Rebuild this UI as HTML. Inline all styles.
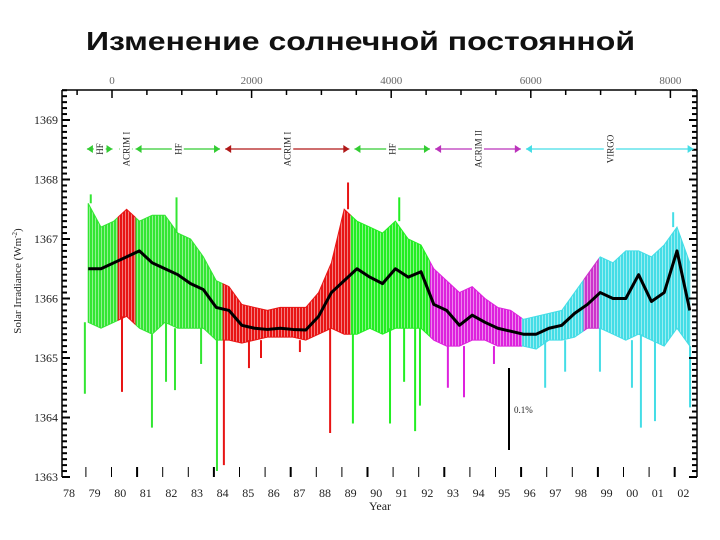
<!DOCTYPE html>
<html><head><meta charset="utf-8"><style>
html,body{margin:0;padding:0;background:#fff;}
svg{display:block;}
</style></head><body>
<svg id="chart" width="720" height="540" viewBox="0 0 720 540" xmlns="http://www.w3.org/2000/svg">
<text x="86" y="50" textLength="549" lengthAdjust="spacingAndGlyphs" font-family="Liberation Sans, sans-serif" font-weight="bold" font-size="26" fill="#111">Изменение солнечной постоянной</text>
<g id="plot"></g>
</svg>
<script>
const sampleYears=[78.75,79.25,79.75,80.25,80.75,81.25,81.75,82.25,82.75,83.25,83.75,84.25,84.75,85.25,85.75,86.25,86.75,87.25,87.75,88.25,88.75,89.25,89.75,90.25,90.75,91.25,91.75,92.25,92.75,93.25,93.75,94.25,94.75,95.25,95.75,96.25,96.75,97.25,97.75,98.25,98.75,99.25,99.75,100.25,100.75,101.25,101.75,102.25];
const meanValues=[1366.5,1366.5,1366.6,1366.7,1366.8,1366.6,1366.5,1366.4,1366.25,1366.15,1365.85,1365.8,1365.55,1365.5,1365.48,1365.5,1365.48,1365.47,1365.7,1366.1,1366.3,1366.5,1366.36,1366.25,1366.5,1366.36,1366.45,1365.9,1365.8,1365.55,1365.72,1365.6,1365.5,1365.45,1365.4,1365.4,1365.5,1365.55,1365.75,1365.9,1366.1,1366.0,1366.0,1366.4,1365.95,1366.1,1366.8,1365.8];
const highValues=[1367.6,1367.2,1367.3,1367.5,1367.3,1367.4,1367.4,1367.1,1367.0,1366.7,1366.3,1366.2,1365.9,1365.85,1365.8,1365.85,1365.85,1365.85,1366.1,1366.6,1367.5,1367.3,1367.2,1367.1,1367.3,1367.0,1366.9,1366.5,1366.3,1366.1,1366.2,1366.0,1365.85,1365.8,1365.65,1365.7,1365.75,1365.8,1366.1,1366.4,1366.7,1366.6,1366.8,1366.8,1366.7,1366.9,1367.2,1366.6];
const lowValues=[1365.6,1365.5,1365.6,1365.7,1365.5,1365.4,1365.6,1365.5,1365.5,1365.5,1365.3,1365.3,1365.25,1365.3,1365.35,1365.35,1365.35,1365.3,1365.4,1365.5,1365.4,1365.4,1365.5,1365.4,1365.5,1365.5,1365.5,1365.3,1365.2,1365.2,1365.3,1365.3,1365.2,1365.2,1365.2,1365.15,1365.3,1365.3,1365.35,1365.5,1365.5,1365.4,1365.3,1365.4,1365.3,1365.2,1365.5,1365.2];
const dipYears=[78.62,80.07,81.24,81.79,82.14,83.16,83.78,84.05,85.03,85.5,87.02,88.2,89.09,90.54,91.09,91.52,91.71,92.8,93.43,94.6,96.6,97.38,98.74,99.99,100.34,100.89,102.26];
const dipValues=[1364.4,1364.43,1363.83,1364.6,1364.46,1364.9,1363.1,1363.2,1364.83,1365.0,1365.1,1363.74,1363.9,1363.9,1364.6,1363.77,1364.2,1364.5,1364.34,1364.9,1364.5,1364.77,1364.77,1364.5,1363.83,1363.94,1364.17];
const peakYears=[78.85,80.5,82.2,88.9,90.9,101.6];
const peakValues=[1367.75,1367.5,1367.7,1367.95,1367.7,1367.45];
const segStarts=[78.6,79.9,80.6,84.0,89.0,92.1,95.7,98.1,98.7];
const segEnds=[79.9,80.6,84.0,89.0,92.1,95.7,98.1,98.7,102.4];
const segColors=["#33e633","#e81414","#33e633","#e81414","#22ee22","#dd22dd","#44dde6","#cc33cc","#44dde6"];
const yTicks=[1363,1364,1365,1366,1367,1368,1369];
const yearLabels=["78","79","80","81","82","83","84","85","86","87","88","89","90","91","92","93","94","95","96","97","98","99","00","01","02"];
const dayTicks=[0,2000,4000,6000,8000];
const instNames=["HF","ACRIM I","HF","ACRIM I","HF","ACRIM II","VIRGO"];
const instStartYears=[78.7,79.95,80.6,84.1,89.15,92.3,95.85];
const instEndYears=[79.7,80.5,83.9,88.95,92.1,95.65,102.4];
const instColors=["#33cc33","#33cc33","#33cc33","#b01818","#33cc33","#bb33bb","#44dde6"];

const NS="http://www.w3.org/2000/svg";
const plot=document.getElementById('plot');
const L=62,R=697,T=90,B=477;
function xY(yr){return 69+(yr-78)*25.6;}
function yV(v){return 120+(1369-v)*59.5;}
function xD(d){return 112+d*0.0698;}
function mk(tag,attrs,parent){const e=document.createElementNS(NS,tag);for(const k in attrs)e.setAttribute(k,attrs[k]);(parent||plot).appendChild(e);return e;}

const defs=mk('defs',{});
segStarts.forEach((s,i)=>{
  const cp=mk('clipPath',{id:'seg'+i},defs);
  mk('rect',{x:xY(s),y:T,width:xY(segEnds[i])-xY(s),height:B-T},cp);
  const pat=mk('pattern',{id:'pat'+i,patternUnits:'userSpaceOnUse',width:'3',height:'8'},defs);
  mk('rect',{x:0,y:0,width:3,height:8,fill:segColors[i],'fill-opacity':'0.55'},pat);
  mk('rect',{x:0,y:0,width:2,height:8,fill:segColors[i]},pat);
});
let bandPts=sampleYears.map((y,i)=>xY(y)+','+yV(highValues[i]));
for(let i=sampleYears.length-1;i>=0;i--)bandPts.push(xY(sampleYears[i])+','+yV(lowValues[i]));
segStarts.forEach((s,i)=>{
  const g=mk('g',{'clip-path':'url(#seg'+i+')'});
  
  
  const p=mk('polygon',{points:bandPts.join(' '),fill:'url(#pat'+i+')',stroke:segColors[i],'stroke-width':'1'},g);
  
  
});
function colorAt(yr){for(let i=segStarts.length-1;i>=0;i--){if(yr>=segStarts[i])return segColors[i];}return segColors[0];}
function lowAt(yr){let best=0;sampleYears.forEach((y,i)=>{if(Math.abs(y-yr)<Math.abs(sampleYears[best]-yr))best=i;});return best;}
dipYears.forEach((yr,i)=>{
  const j=lowAt(yr);
  const l=mk('line',{x1:xY(yr),x2:xY(yr),y1:yV(lowValues[j]),y2:yV(dipValues[i]),stroke:colorAt(yr),'stroke-width':'2'});
  
  
});
peakYears.forEach((yr,i)=>{
  const j=lowAt(yr);
  const l=mk('line',{x1:xY(yr),x2:xY(yr),y1:yV(highValues[j]),y2:yV(peakValues[i]),stroke:colorAt(yr),'stroke-width':'2'});
  
  
});
const meanLine=mk('polyline',{points:sampleYears.map((y,i)=>xY(y)+','+yV(meanValues[i])).join(' '),fill:'none',stroke:'#000','stroke-width':'3','stroke-linejoin':'round'});



const ax=mk('g',{stroke:'#000',fill:'none'});


mk('line',{x1:L,x2:L,y1:T,y2:B,'stroke-width':'1.5'},ax);
mk('line',{x1:R,x2:R,y1:T,y2:B,'stroke-width':'1.5'},ax);
mk('line',{x1:L,x2:R,y1:T,y2:T,'stroke-width':'1.5'},ax);
for(let v=1363;v<=1369.55;v+=0.1){
  const y=yV(v);const major=Math.abs(v-Math.round(v))<0.01;
  mk('line',{x1:L,x2:L+(major?8:5),y1:y,y2:y,'stroke-width':'2'},ax);
  mk('line',{x1:R,x2:R-(major?8:5),y1:y,y2:y,'stroke-width':'2'},ax);
}
yTicks.forEach(v=>{
  const t=mk('text',{x:L-4,y:yV(v)+4,'text-anchor':'end','font-family':'Liberation Serif, serif','font-size':'12',fill:'#222'});
  t.textContent=v;
  
  
});
yearLabels.forEach((lab,i)=>{
  const t=mk('text',{x:xY(78+i),y:497,'text-anchor':'middle','font-family':'Liberation Serif, serif','font-size':'12',fill:'#222'});
  t.textContent=lab;
  
  
  if(i<yearLabels.length-1){
    const x=xY(78+i+0.66);
    mk('line',{x1:x,x2:x,y1:B-10,y2:B,'stroke-width':(i%3===2)?'2':'1'},ax);
  }
});
for(let d=-500;d<=8500;d+=500){
  const x=xD(d);if(x<L||x>R)continue;
  mk('line',{x1:x,x2:x,y1:T,y2:T+(d%2000===0?8:5),'stroke-width':'1.5'},ax);
}
dayTicks.forEach(d=>{
  const t=mk('text',{x:xD(d),y:84,'text-anchor':'middle','font-family':'Liberation Serif, serif','font-size':'11',fill:'#666'});
  t.textContent=d;
  
  
});
const xt=mk('text',{x:380,y:510,'text-anchor':'middle','font-family':'Liberation Serif, serif','font-size':'12',fill:'#222'});
xt.textContent='Year';


const yt=mk('text',{x:0,y:0,transform:'translate(21,281) rotate(-90)','text-anchor':'middle','font-family':'Liberation Serif, serif','font-size':'11',fill:'#222'});
yt.innerHTML='Solar Irradiance (Wm<tspan baseline-shift="super" font-size="7">-2</tspan>)';



const AY=149;
instNames.forEach((n,i)=>{
  const x1=xY(instStartYears[i]),x2=xY(instEndYears[i]),c=instColors[i];
  const g=mk('g',{});
  
  
  if(i!==1){
    mk('line',{x1:x1,x2:x2,y1:AY,y2:AY,stroke:c,'stroke-width':'1.2'},g);
  }
  mk('polygon',{points:`${x1},${AY} ${x1+6},${AY-4} ${x1+6},${AY+4}`,fill:c},g);
  mk('polygon',{points:`${x2},${AY} ${x2-6},${AY-4} ${x2-6},${AY+4}`,fill:c},g);
  const cx=(x1+x2)/2;
  const w=n.length*6+4;
  mk('rect',{x:cx-6,y:AY-w/2,width:12,height:w,fill:'#fff'},g);
  const t=mk('text',{x:0,y:0,transform:`translate(${cx+3.5},${AY}) rotate(-90)`,'text-anchor':'middle','font-family':'Liberation Serif, serif','font-size':'9',fill:'#222'},g);
  t.textContent=n;
  
  
});

const sb=mk('line',{x1:509,x2:509,y1:368,y2:450,stroke:'#000','stroke-width':'2'});


const st=mk('text',{x:514,y:413,'font-family':'Liberation Serif, serif','font-size':'9',fill:'#222'});
st.textContent='0.1%';


</script>
</body></html>
